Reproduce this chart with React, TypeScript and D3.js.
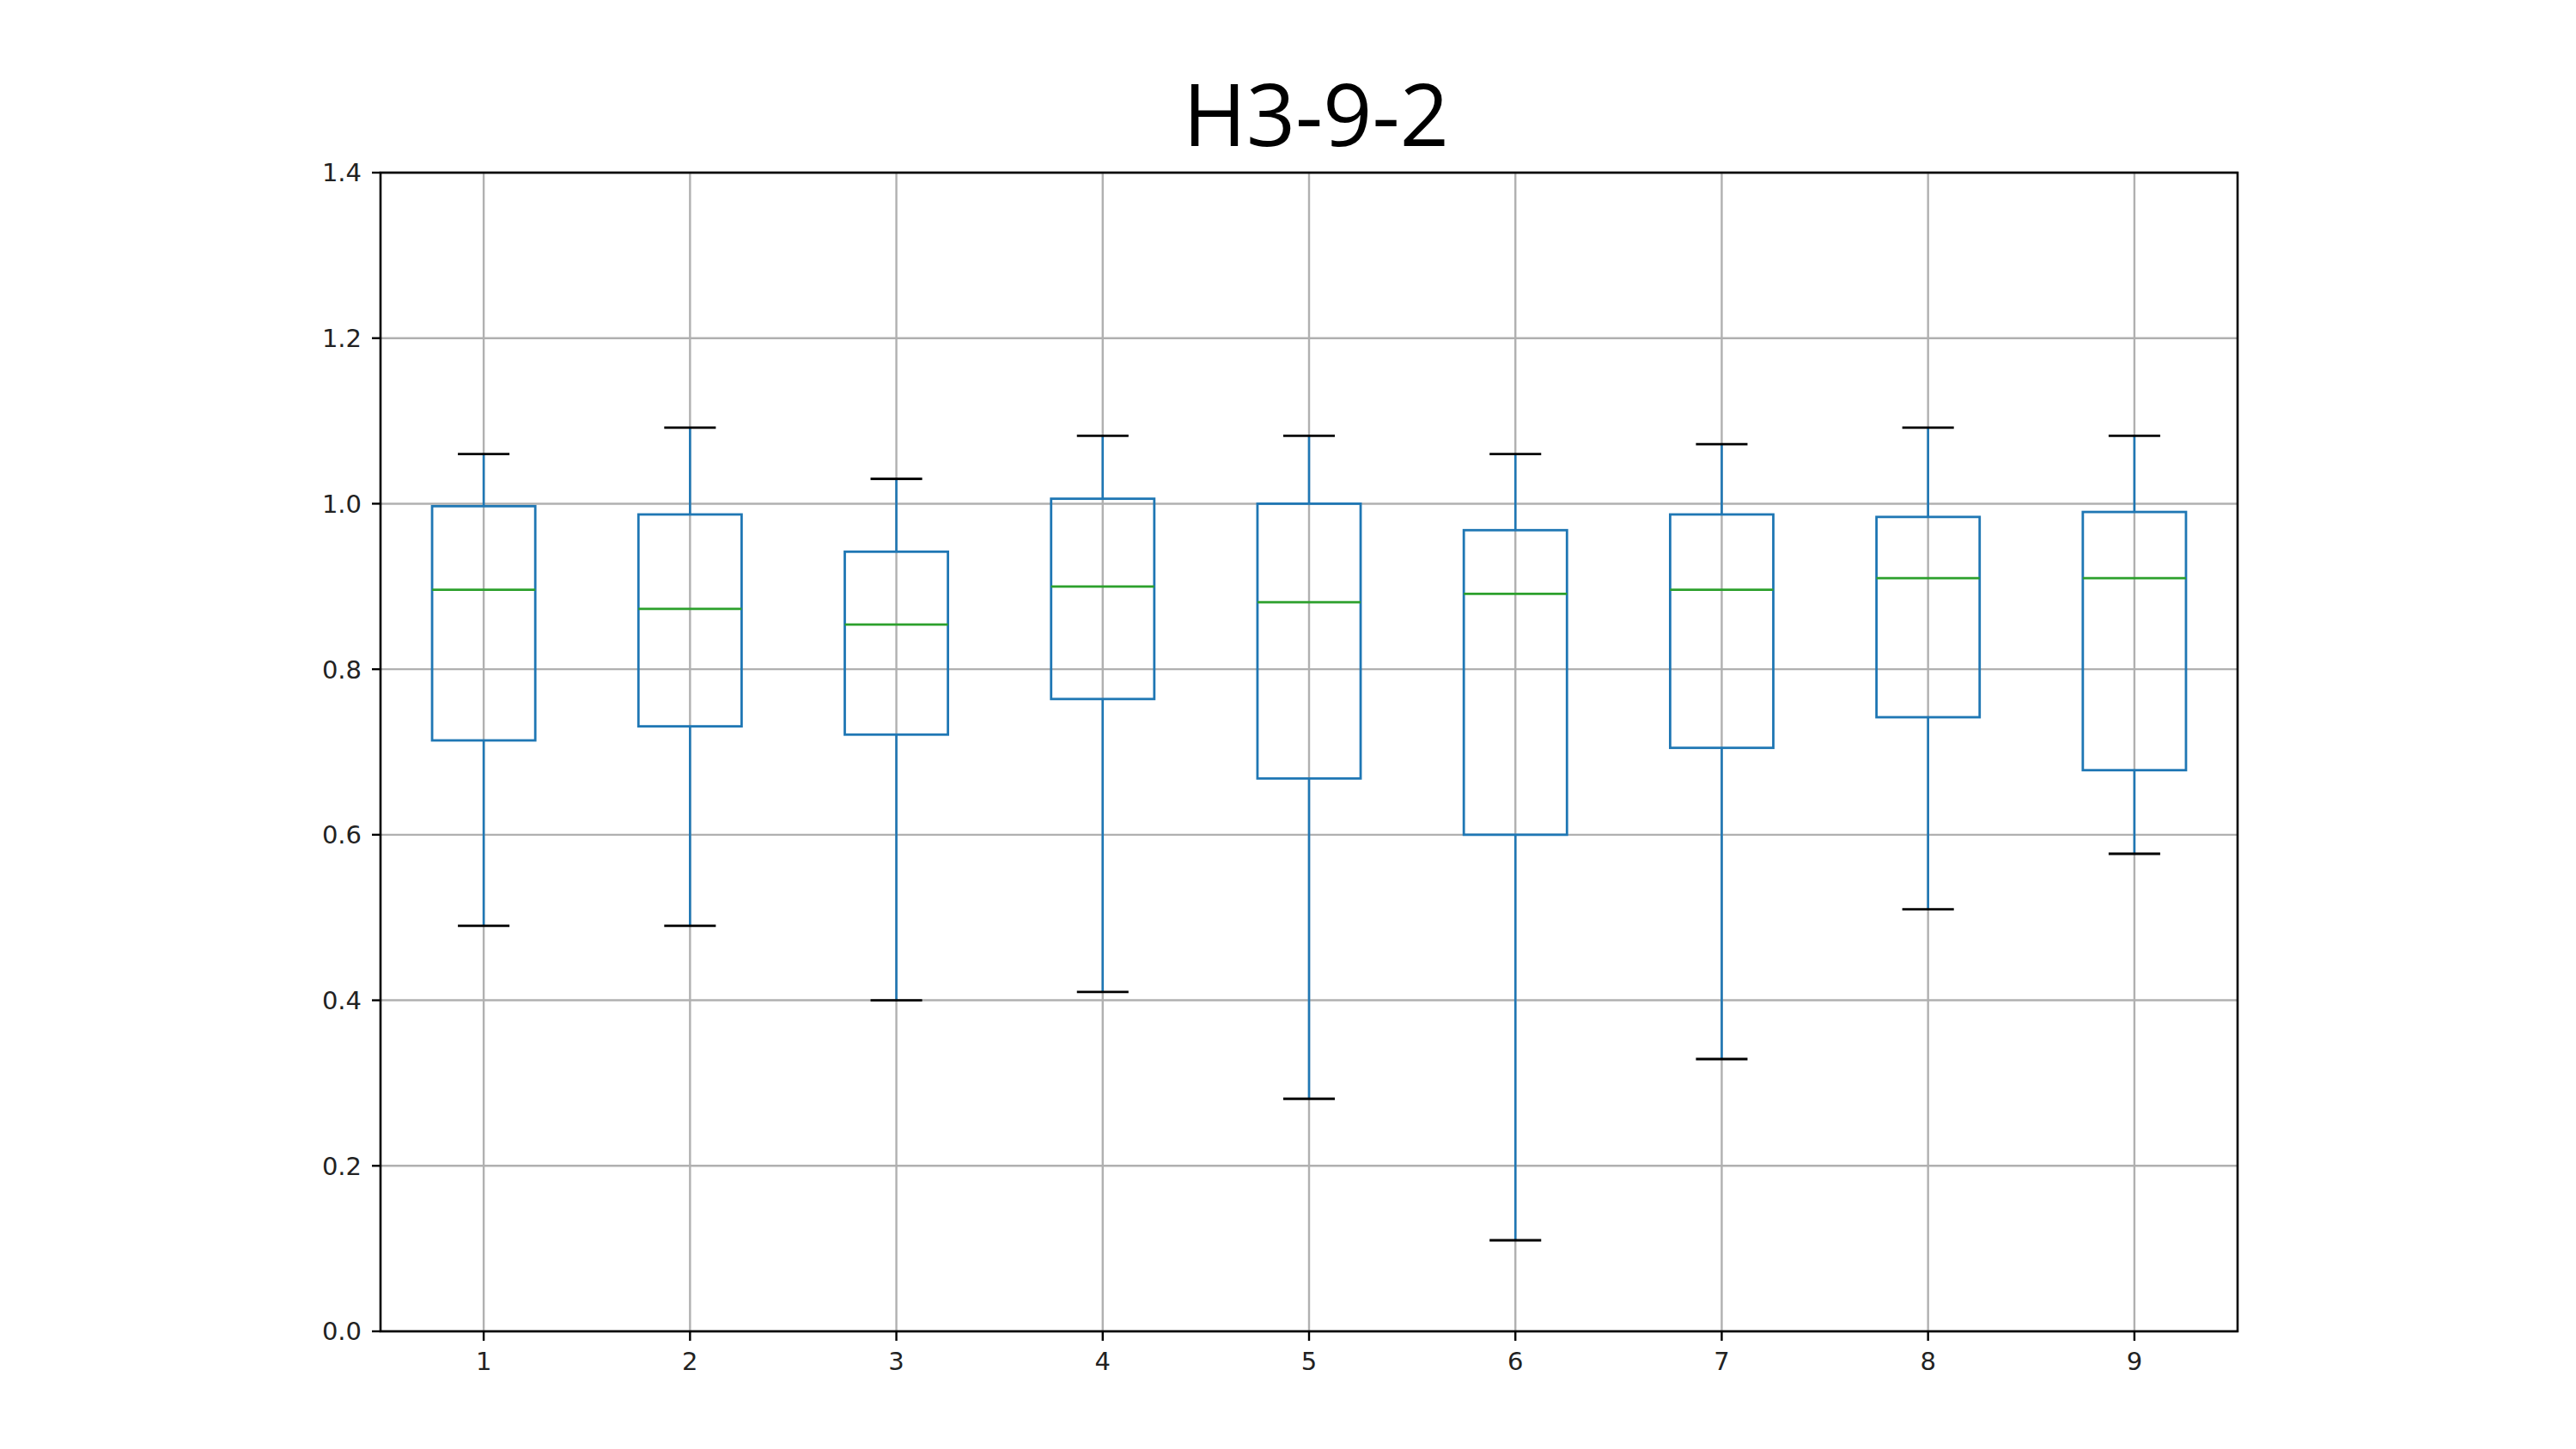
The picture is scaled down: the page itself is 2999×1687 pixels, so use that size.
import * as d3 from 'd3';

const categories = ['1', '2', '3', '4', '5', '6', '7', '8', '9'];
const whiskerHigh = [1.06, 1.092, 1.03, 1.082, 1.082, 1.06, 1.072, 1.092, 1.082];
const q3 = [0.997, 0.987, 0.942, 1.006, 1.0, 0.968, 0.987, 0.984, 0.99];
const medians = [0.896, 0.873, 0.854, 0.9, 0.881, 0.891, 0.896, 0.91, 0.91];
const q1 = [0.714, 0.731, 0.721, 0.764, 0.668, 0.6, 0.705, 0.742, 0.678];
const whiskerLow = [0.49, 0.49, 0.4, 0.41, 0.281, 0.11, 0.329, 0.51, 0.577];
const yTicks = [0, 0.2, 0.4, 0.6, 0.8, 1.0, 1.2, 1.4];

const W = 2999;
const H = 1687;
const left = 443;
const right = 2605;
const top = 201;
const bottom = 1550;

const BLUE = '#1f77b4';
const GREEN = '#2ca02c';
const GRID = '#b0b0b0';
const TICKFONT = '"DejaVu Sans", sans-serif';

export default function App() {
  const x = d3.scaleLinear().domain([0.5, categories.length + 0.5]).range([left, right]);
  const y = d3.scaleLinear().domain([0, 1.4]).range([bottom, top]);
  const boxW = x(1.25) - x(1);
  const capW = x(1.125) - x(1);

  return (
    <svg
      width={W}
      height={H}
      style={{ position: 'absolute', left: 0, top: 0, background: '#fff' }}
    >
      <text
        x={1532}
        y={170}
        textAnchor="middle"
        fontFamily='"Open Sans", sans-serif'
        fontSize={100}
        fill="#000"
      >
        H3-9-2
      </text>

      {/* grid */}
      {yTicks.map(t => (
        <line key={'gy' + t} x1={left} x2={right} y1={y(t)} y2={y(t)} stroke={GRID} strokeWidth={2.4} />
      ))}
      {categories.map((c, i) => (
        <line key={'gx' + c} x1={x(i + 1)} x2={x(i + 1)} y1={top} y2={bottom} stroke={GRID} strokeWidth={2.4} />
      ))}

      {/* boxes */}
      {categories.map((c, i) => {
        const cx = x(i + 1);
        return (
          <g key={'b' + c} fill="none">
            <line x1={cx} x2={cx} y1={y(q3[i])} y2={y(whiskerHigh[i])} stroke={BLUE} strokeWidth={2.6} />
            <line x1={cx} x2={cx} y1={y(q1[i])} y2={y(whiskerLow[i])} stroke={BLUE} strokeWidth={2.6} />
            <line x1={cx - capW} x2={cx + capW} y1={y(whiskerHigh[i])} y2={y(whiskerHigh[i])} stroke="#000" strokeWidth={2.8} />
            <line x1={cx - capW} x2={cx + capW} y1={y(whiskerLow[i])} y2={y(whiskerLow[i])} stroke="#000" strokeWidth={2.8} />
            <rect
              x={cx - boxW}
              y={y(q3[i])}
              width={boxW * 2}
              height={y(q1[i]) - y(q3[i])}
              stroke={BLUE}
              strokeWidth={2.8}
            />
            <line x1={cx - boxW} x2={cx + boxW} y1={y(medians[i])} y2={y(medians[i])} stroke={GREEN} strokeWidth={2.8} />
          </g>
        );
      })}

      {/* frame */}
      <rect x={left} y={top} width={right - left} height={bottom - top} fill="none" stroke="#000" strokeWidth={2.6} />

      {/* y ticks */}
      {yTicks.map(t => (
        <g key={'ty' + t}>
          <line x1={left - 10} x2={left} y1={y(t)} y2={y(t)} stroke="#000" strokeWidth={2.4} />
          <text
            x={left - 22}
            y={y(t)}
            dy="0.36em"
            textAnchor="end"
            fontFamily={TICKFONT}
            fontSize={29}
            fill="#222"
          >
            {t.toFixed(1)}
          </text>
        </g>
      ))}

      {/* x ticks */}
      {categories.map((c, i) => (
        <g key={'tx' + c}>
          <line x1={x(i + 1)} x2={x(i + 1)} y1={bottom} y2={bottom + 11} stroke="#000" strokeWidth={2.4} />
          <text
            x={x(i + 1)}
            y={1595}
            textAnchor="middle"
            fontFamily={TICKFONT}
            fontSize={29}
            fill="#222"
          >
            {c}
          </text>
        </g>
      ))}
    </svg>
  );
}
